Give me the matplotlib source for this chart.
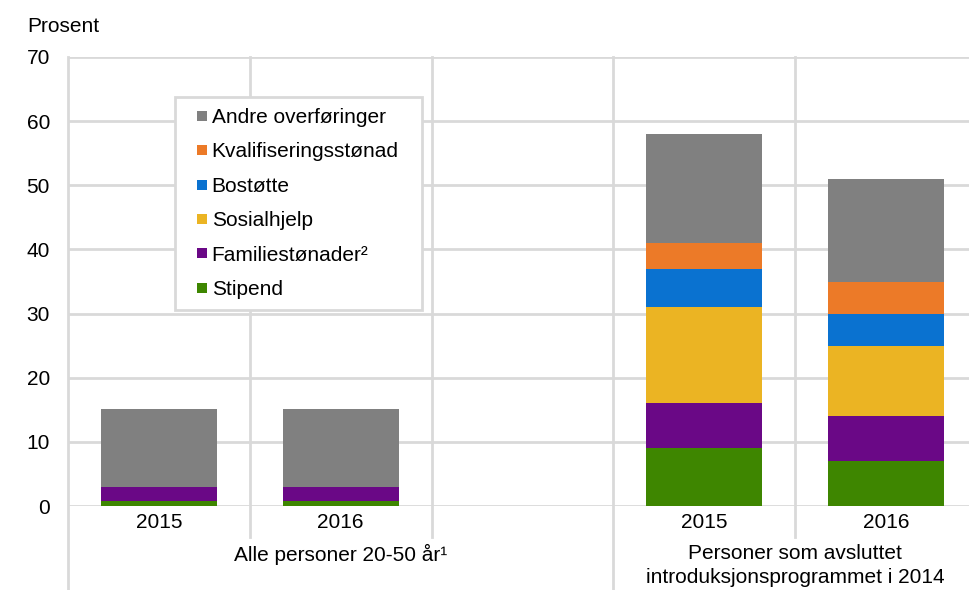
import matplotlib
matplotlib.use("Agg")
import matplotlib.pyplot as plt
from matplotlib.lines import Line2D
from matplotlib.patches import Rectangle
from matplotlib.transforms import blended_transform_factory

plt.rcParams['font.family'] = ['Liberation Sans', 'DejaVu Sans']

# Data (prosent)
years = ["2015", "2016", "", "2015", "2016"]
groups = ["Alle personer 20-50 år¹", "Personer som avsluttet\nintroduksjonsprogrammet i 2014"]
series = ["Stipend", "Familiestønader²", "Sosialhjelp", "Bostøtte",
          "Kvalifiseringsstønad", "Andre overføringer"]
colors = ["#3e8600", "#6a0886", "#ebb423", "#0a72d0", "#ec7a28", "#808080"]

stipend = [0.8, 0.8, 0, 9, 7]
familie = [2.2, 2.2, 0, 7, 7]
sosial = [0, 0, 0, 15, 11]
bostotte = [0, 0, 0, 6, 5]
kval = [0, 0, 0, 4, 5]
andre = [12.1, 12.1, 0, 17, 16]
values = [stipend, familie, sosial, bostotte, kval, andre]

FS = 15
fig = plt.figure(figsize=(9.69, 5.9), dpi=100)
W, H = 969, 590
ax = fig.add_axes([68 / W, (H - 506) / H, (977 - 68) / W, (506 - 57) / H])

grid_c = "#d9d9d9"
x = list(range(len(years)))
bar_x = [i for i in x if years[i]]
bottom = [0.0] * len(x)
for vals, c in zip(values, colors):
    bv = [vals[i] for i in bar_x]
    bb = [bottom[i] for i in bar_x]
    ax.bar(bar_x, bv, bottom=bb, width=0.64, color=c, zorder=3, linewidth=0)
    for i in x:
        bottom[i] += vals[i]

ax.set_xlim(-0.5, len(x) - 0.5)
ax.set_ylim(0, 70)
ax.set_yticks(range(0, 71, 10))
ax.yaxis.grid(True, color=grid_c, linewidth=2, zorder=0)
ax.set_axisbelow(True)
for s in ax.spines.values():
    s.set_visible(False)
ax.tick_params(axis='y', length=0, pad=13, labelsize=FS)
ax.set_xticks([])

# vertical separators (category ticks and group borders)
tr = blended_transform_factory(ax.transData, ax.transAxes)
ph = 506 - 57
bot_tick = (506 - 537) / ph
bot_group = (506 - 592) / ph
for xv in [0.5, 1.5, 3.5]:
    ax.add_line(Line2D([xv, xv], [1, bot_tick], transform=tr, color=grid_c,
                       linewidth=2, clip_on=False, zorder=1))
for xv in [-0.5, 2.5]:
    ax.add_line(Line2D([xv, xv], [1, bot_group], transform=tr, color=grid_c,
                       linewidth=2, clip_on=False, zorder=1))

# year labels
ylab = (506 - 523) / ph
for i, yr in enumerate(years):
    if yr:
        ax.text(i, ylab, yr, transform=tr, ha='center', va='center', fontsize=FS)

# group labels
gtop = (506 - 544) / ph
ax.text(1, gtop, groups[0], transform=tr, ha='center', va='top', fontsize=FS,
        linespacing=1.35)
ax.text(3.5, gtop, groups[1], transform=tr, ha='center', va='top', fontsize=FS,
        linespacing=1.35)

fig.text(27 / W, 1 - 27 / H, "Prosent", ha='left', va='center', fontsize=FS)

# legend box
box = Rectangle((175 / W, 1 - 310 / H), (422 - 175) / W, (310 - 97) / H,
                transform=fig.transFigure, facecolor='white', edgecolor=grid_c,
                linewidth=2, zorder=4, clip_on=False)
ax.add_patch(box)

handles = [Line2D([], [], marker='s', linestyle='none', markersize=7.8,
                  markerfacecolor=c, markeredgewidth=0) for c in colors]
leg = ax.legend(handles[::-1], series[::-1], loc='upper left',
                bbox_to_anchor=(196 / W, 1 - 108 / H), bbox_transform=fig.transFigure,
                borderaxespad=0, borderpad=0, fontsize=FS, frameon=False,
                handlelength=0.55, handletextpad=0.2, labelspacing=0.74)
leg.set_zorder(5)

fig.savefig("out.png", dpi=100)
